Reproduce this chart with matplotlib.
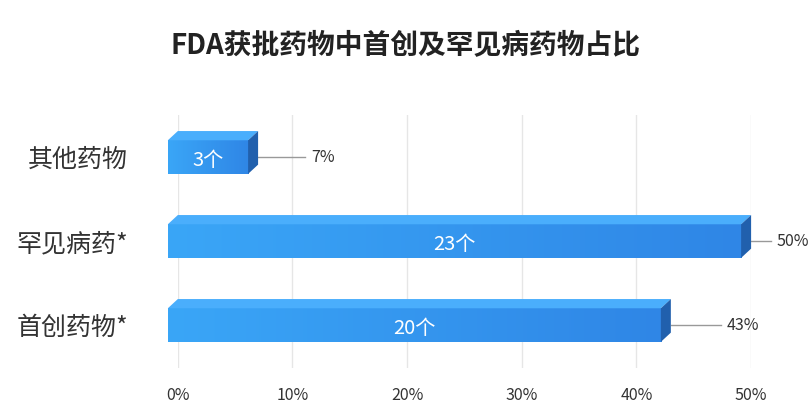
import matplotlib
matplotlib.use("Agg")
import matplotlib.pyplot as plt
import numpy as np
from matplotlib.patches import Polygon, Rectangle
from matplotlib.colors import LinearSegmentedColormap

plt.rcParams['font.family'] = ['Noto Sans CJK SC', 'DejaVu Sans']

categories = ['其他药物', '罕见病药*', '首创药物*']
percents = [7, 50, 43]
counts = ['3个', '23个', '20个']
xticks = [0, 10, 20, 30, 40, 50]
label_gap = [4.1, 1.7, 4.4]

fig = plt.figure(figsize=(8.12, 4.2), dpi=100)
ax = fig.add_axes([0.219, 0.124, 0.706, 0.602])
ax.set_xlim(0, 50)
ax.set_ylim(2.51, -0.5)
for s in ax.spines.values():
    s.set_visible(False)
ax.set_xticks(xticks)
ax.set_xticklabels([f'{t}%' for t in xticks], fontsize=11.5, color='#333333')
ax.tick_params(length=0, pad=14)
ax.set_yticks(range(len(categories)))
ax.set_yticklabels(categories, fontsize=18, color='#333333')
ax.tick_params(axis='y', pad=36)
ax.grid(axis='x', color='#e6e6e6', lw=1)
ax.set_axisbelow(True)

dx, dy, h = 0.87, 0.11, 0.40
grad = np.linspace(0, 1, 256).reshape(1, -1)
cmap = LinearSegmentedColormap.from_list('g', ['#3aa6f7', '#2f86e6'])
for i, (v, c) in enumerate(zip(percents, counts)):
    x0, x1 = -dx, v - dx
    y0, y1 = i - h / 2, i + h / 2
    rect = Rectangle((x0, y0), x1 - x0, h, facecolor='none', edgecolor='none', zorder=3)
    ax.add_patch(rect)
    im = ax.imshow(grad, cmap=cmap, aspect='auto', extent=(x0, x1, y1, y0), zorder=3)
    im.set_clip_path(rect)
    ax.add_patch(Polygon([(x0, y0), (x0 + dx, y0 - dy), (x1 + dx, y0 - dy), (x1, y0)],
                         closed=True, facecolor='#4aaefc', edgecolor='none', zorder=3, clip_on=False))
    ax.add_patch(Polygon([(x1, y0), (x1 + dx, y0 - dy), (x1 + dx, y1 - dy), (x1, y1)],
                         closed=True, facecolor='#2160ad', edgecolor='none', zorder=3, clip_on=False))
    ax.text((x0 + x1) / 2, i + 0.04, c, color='white', fontsize=14.5, fontweight='medium',
            ha='center', va='center', zorder=4)
    ax.plot([v, v + label_gap[i]], [i, i], color='#999999', lw=1, zorder=2, clip_on=False)
    ax.text(v + label_gap[i] + 0.5, i, f'{v}%', fontsize=11.5, color='#333333', va='center', ha='left', clip_on=False)

fig.text(0.5, 0.89, 'FDA获批药物中首创及罕见病药物占比', ha='center', va='center',
         fontsize=20, fontweight='bold', color='#222222')
fig.savefig('out.png', dpi=100, facecolor='white')
